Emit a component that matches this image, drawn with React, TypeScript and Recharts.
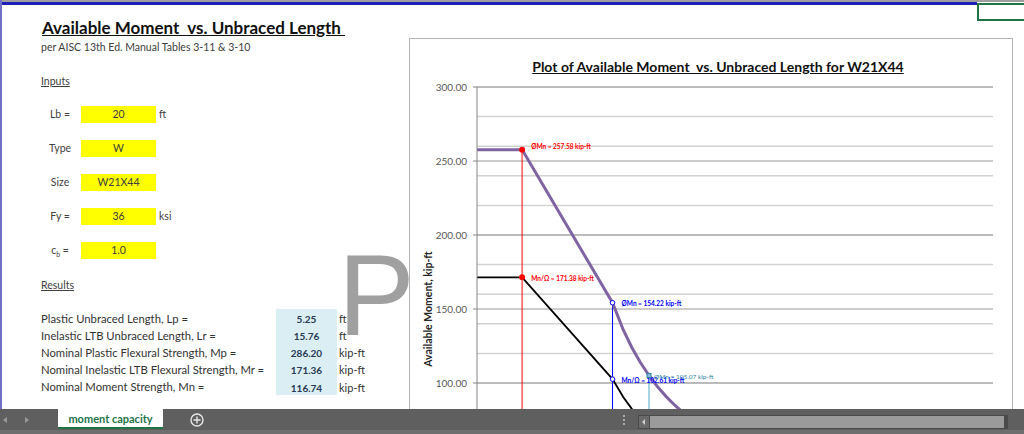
import React from 'react';
import { ComposedChart, Line, Scatter, XAxis, YAxis, CartesianGrid } from 'recharts';

// unbraced length (ft) and available moments (kip-ft)
const lengths = [0, 5.25, 15.76, 17, 18, 19, 20, 21, 22, 23, 24, 25, 26, 28, 30, 35, 40, 45, 50, 55, 60];
const phiMn = [257.58, 257.58, 154.22, 136.0, 124.0, 113.8, 105.07, 97.4, 90.8, 85.0, 79.8, 75.2, 71.2, 64.1, 58.4, 47.6, 40.3, 34.9, 30.8, 27.6, 25.0];
const mnOmega = [171.38, 171.38, 102.61, 90.5, 82.5, 75.7, 69.9, 64.8, 60.4, 56.5, 53.1, 50.1, 47.3, 42.7, 38.8, 31.7, 26.8, 23.2, 20.5, 18.4, 16.7];

// Lp, Lr, Lb guide lines
const guideX = [5.25, 15.76, 20];
const guideTop = [257.58, 154.22, 105.07];

const markerX = [5.25, 5.25, 15.76, 15.76, 20];
const markerY = [257.58, 171.38, 154.22, 102.61, 105.07];
const markerText = [
  'ØMn = 257.58 kip-ft',
  'Mn/Ω = 171.38 kip-ft',
  'ØMn = 154.22 kip-ft',
  'Mn/Ω = 102.61 kip-ft',
  'ØMn = 105.07 kip-ft',
];

const yTicks = [0, 50, 100, 150, 200, 250, 300];
const yMinor = Array.from({ length: 61 }, (_, i) => i * 5);
const xGrid = Array.from({ length: 31 }, (_, i) => i * 2);

const inputLabels = ['Lb =', 'Type', 'Size', 'Fy =', 'cb ='];
const inputValues = ['20', 'W', 'W21X44', '36', '1.0'];
const inputUnits = ['ft', '', '', 'ksi', ''];

const resultLabels = [
  'Plastic Unbraced Length, Lp  =',
  'Inelastic LTB Unbraced Length, Lr  =',
  'Nominal Plastic Flexural Strength, Mp  =',
  'Nominal Inelastic LTB Flexural Strength, Mr  =',
  'Nominal Moment Strength, Mn  =',
];
const resultValues = ['5.25', '15.76', '286.20', '171.36', '116.74'];
const resultUnits = ['ft', 'ft', 'kip-ft', 'kip-ft', 'kip-ft'];

const phiData = lengths.map((x, i) => ({ x, y: phiMn[i] }));
const omegaData = lengths.map((x, i) => ({ x, y: mnOmega[i] }));
const guides = guideX.map((x, i) => [{ x, y: 0 }, { x, y: guideTop[i] }]);
const markers = markerX.map((x, i) => ({ x, y: markerY[i], i }));

const font = 'Lato, "Open Sans", sans-serif';
const sheetFont = 'Lato, "DejaVu Sans", sans-serif';

const guideColors = ['rgba(255,0,0,0.55)', '#0000ff', '#4bacc6'];
const markerColors = ['#ff0000', '#ff0000', '#0000ff', '#0000ff', '#31859c'];

const Marker = (props: any) => {
  const { cx, cy, payload } = props;
  const i = payload.i;
  const c = markerColors[i];
  let mark;
  if (i < 2) mark = <circle cx={cx} cy={cy} r={3} fill={c} />;
  else if (i < 4) mark = <circle cx={cx} cy={cy} r={2.3} fill="#fff" stroke={c} strokeWidth={1} />;
  else mark = <rect x={cx - 2} y={cy - 2} width={4} height={4} fill="#8db3e2" stroke={c} strokeWidth={1} />;
  const dx = i === 4 ? 5 : 9;
  const dy = i === 0 ? -3 : 1;
  return (
    <g>
      {mark}
      <text
        x={cx + dx}
        y={cy + dy}
        dominantBaseline="central"
        fontFamily={font}
        fontSize={6.5}
        fontWeight={i === 4 ? 400 : 700}
        fill={c}
      >
        {markerText[i]}
      </text>
    </g>
  );
};

const AxisTitle = () => (
  <text
    x={18}
    y={270}
    transform="rotate(-90 18 270)"
    textAnchor="middle"
    dominantBaseline="central"
    fontFamily={font}
    fontSize={10.5}
    fontWeight={700}
    fill="#262626"
  >
    Available Moment, kip-ft
  </text>
);

const T = ({ x, y, size = 10.5, children, style }: any) => (
  <div
    style={{
      position: 'absolute',
      left: x,
      top: y - size,
      height: size * 2,
      lineHeight: `${size * 2}px`,
      fontSize: size,
      fontFamily: sheetFont,
      color: '#262626',
      whiteSpace: 'nowrap',
      ...style,
    }}
  >
    {children}
  </div>
);

const inputY = [114, 148, 182, 216, 250];
const resultY = [319, 336, 353, 370, 387.5];

export default function App() {
  return (
    <div style={{ position: 'absolute', left: 0, top: 0, width: 1024, height: 434, overflow: 'hidden', background: '#fff' }}>
      {/* window frame */}
      <div style={{ position: 'absolute', left: 0, top: 0, width: 1024, height: 2, background: '#9e9e9e' }} />
      <div style={{ position: 'absolute', left: 0, top: 2, width: 977, height: 3, background: '#1e1eb8' }} />
      <div style={{ position: 'absolute', left: 0, top: 0, width: 2, height: 409, background: '#7070c8' }} />
      <div style={{ position: 'absolute', left: 977, top: 3, width: 50, height: 18, boxSizing: 'border-box', border: '2px solid #217346' }} />

      {/* sheet contents */}
      <T x={42} y={28} size={17} style={{ fontWeight: 700, textDecoration: 'underline', color: '#111' }}>
        Available Moment&nbsp;&nbsp;vs. Unbraced Length&nbsp;
      </T>
      <T x={41} y={47} size={10.5} style={{ color: '#404040' }}>per AISC 13th Ed. Manual Tables 3-11 &amp; 3-10</T>
      <T x={41} y={81.5} style={{ textDecoration: 'underline', color: '#404040' }}>Inputs</T>
      {inputLabels.map((l, i) => (
        <React.Fragment key={l}>
          <T x={37} y={inputY[i]} style={{ width: 46, textAlign: 'center', color: '#404040' }}>
            {i === 4 ? (
              <span>
                c<sub style={{ fontSize: 7 }}>b</sub> =
              </span>
            ) : (
              l
            )}
          </T>
          <div style={{ position: 'absolute', left: 81, top: inputY[i] - 8.5, width: 75, height: 17, background: '#ffff00' }} />
          <T x={81} y={inputY[i]} style={{ width: 75, textAlign: 'center', color: '#404040' }}>
            {inputValues[i]}
          </T>
          {inputUnits[i] && <T x={159} y={inputY[i]} style={{ color: '#404040' }}>{inputUnits[i]}</T>}
        </React.Fragment>
      ))}
      <T x={41} y={285.5} style={{ textDecoration: 'underline', color: '#404040' }}>Results</T>
      <div style={{ position: 'absolute', left: 276, top: 309, width: 61, height: 86, background: '#daeef3' }} />
      {resultLabels.map((l, i) => (
        <React.Fragment key={l}>
          <T x={41} y={resultY[i]} size={11.3} style={{ color: '#333' }}>{l}</T>
          <T x={276} y={resultY[i]} size={10} style={{ width: 61, textAlign: 'center', fontWeight: 700, color: '#283a55' }}>
            {resultValues[i]}
          </T>
          <T x={339} y={resultY[i]} size={11} style={{ color: '#333' }}>{resultUnits[i]}</T>
        </React.Fragment>
      ))}

      {/* page watermark */}
      <svg style={{ position: 'absolute', left: 0, top: 0 }} width={420} height={410}>
        <text x={338} y={335} fontFamily='"Liberation Sans", Arial, sans-serif' fontSize={115} fill="#a0a0a0">
          P
        </text>
      </svg>

      {/* chart object */}
      <div
        style={{
          position: 'absolute',
          left: 409,
          top: 38,
          width: 604,
          height: 400,
          boxSizing: 'border-box',
          border: '1px solid #b4b4b4',
          background: '#fff',
          overflow: 'hidden',
        }}
      >
        <div
          style={{
            position: 'absolute',
            left: 0,
            top: 19,
            width: 602,
            textAlign: 'center',
            paddingLeft: 14,
            boxSizing: 'border-box',
            fontFamily: font,
            fontWeight: 700,
            fontSize: 14,
            textDecoration: 'underline',
            color: '#111',
          }}
        >
          Plot of Available Moment&nbsp;&nbsp;vs. Unbraced Length for W21X44
        </div>
        <ComposedChart width={602} height={540} margin={{ top: 48, right: 19, bottom: 18, left: 17 }}>
          <CartesianGrid horizontalValues={yMinor} verticalValues={xGrid} stroke="#d2d2d2" strokeWidth={1.5} />
          <CartesianGrid horizontalValues={yTicks} vertical={false} stroke="#9a9a9a" strokeWidth={1.2} />
          <XAxis type="number" dataKey="x" domain={[0, 60]} ticks={xGrid} height={30} tick={false} axisLine={{ stroke: '#868686' }} />
          <YAxis
            type="number"
            dataKey="y"
            domain={[0, 300]}
            ticks={yTicks}
            width={50}
            tickSize={4}
            tickMargin={6}
            tickFormatter={(v: number) => v.toFixed(2)}
            tick={{ fontSize: 10, fill: '#595959', fontFamily: font }}
            axisLine={{ stroke: '#868686' }}
            tickLine={{ stroke: '#868686' }}
            label={<AxisTitle />}
          />
          {guides.map((g, i) => (
            <Line
              key={i}
              data={g}
              dataKey="y"
              type="linear"
              stroke={guideColors[i]}
              strokeWidth={i === 0 ? 1.8 : 1}
              dot={false}
              isAnimationActive={false}
            />
          ))}
          <Line data={omegaData} dataKey="y" type="linear" stroke="#000" strokeWidth={1.8} dot={false} isAnimationActive={false} />
          <Line data={phiData} dataKey="y" type="linear" stroke="#8064a2" strokeWidth={3} dot={false} isAnimationActive={false} />
          <Scatter data={markers} shape={<Marker />} isAnimationActive={false} />
        </ComposedChart>
      </div>

      {/* sheet tab bar */}
      <div style={{ position: 'absolute', left: 0, top: 409, width: 1024, height: 25, background: '#5f5f5f' }} />
      <div style={{ position: 'absolute', left: 0, top: 430, width: 1024, height: 4, background: '#6e6e6e' }} />
      <svg style={{ position: 'absolute', left: 0, top: 409 }} width={1024} height={25}>
        <path d="M7,8 L3,11 L7,14 Z" fill="#9a9a9a" />
        <path d="M25,8 L29,11 L25,14 Z" fill="#9a9a9a" />
        <circle cx={197} cy={11} r={6} fill="none" stroke="#e6e6e6" strokeWidth={1.4} />
        <path d="M197,7.5 V14.5 M193.5,11 H200.5" stroke="#e6e6e6" strokeWidth={1.4} />
        <circle cx={624} cy={7} r={0.9} fill="#d0d0d0" />
        <circle cx={624} cy={11} r={0.9} fill="#d0d0d0" />
        <circle cx={624} cy={15} r={0.9} fill="#d0d0d0" />
        <rect x={638} y={6} width={370} height={14} fill="#4a4a4a" />
        <rect x={639} y={7} width={10} height={12} fill="#6a6a6a" />
        <path d="M645,10 L642,13 L645,16 Z" fill="#d0d0d0" />
        <rect x={650} y={7} width={354} height={12} fill="#9b9b9b" />
      </svg>
      <div
        style={{
          position: 'absolute',
          left: 58,
          top: 409,
          width: 105,
          height: 20,
          background: '#fff',
          borderBottom: '2px solid #217346',
          boxSizing: 'border-box',
          textAlign: 'center',
          lineHeight: '19px',
          fontFamily: font,
          fontWeight: 700,
          fontSize: 11,
          color: '#217346',
        }}
      >
        moment capacity
      </div>
    </div>
  );
}
